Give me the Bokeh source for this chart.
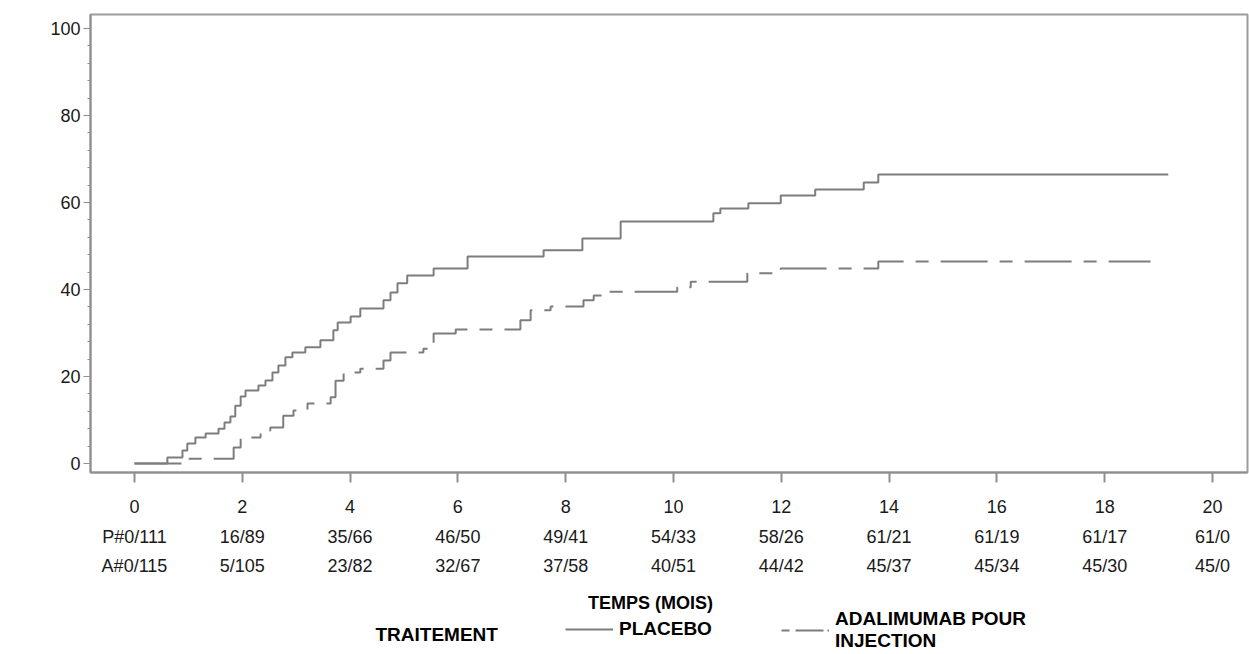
from bokeh.plotting import figure
from bokeh.layouts import column
from bokeh.models import Range1d, FixedTicker, LinearAxis, Legend, LegendItem, Label
from bokeh.embed import file_html
from bokeh.resources import INLINE

# Time axis ticks (months) and the numbers at risk table printed under them
months = [0, 2, 4, 6, 8, 10, 12, 14, 16, 18, 20]
placebo_risk = ["P#0/111", "16/89", "35/66", "46/50", "49/41", "54/33",
                "58/26", "61/21", "61/19", "61/17", "61/0"]
adalimumab_risk = ["A#0/115", "5/105", "23/82", "32/67", "37/58", "40/51",
                   "44/42", "45/37", "45/34", "45/30", "45/0"]

# Cumulative incidence (%) step curves: event times in months, level after each step
placebo_t = [0.00, 0.61, 0.89, 0.98, 1.13, 1.32, 1.56, 1.67, 1.78, 1.87, 1.97,
             2.06, 2.30, 2.43, 2.56, 2.67, 2.80, 2.93, 3.17, 3.45, 3.69, 3.77,
             4.01, 4.19, 4.62, 4.75, 4.88, 5.06, 5.55, 6.18, 7.59, 8.31, 9.02,
             10.74, 10.87, 11.39, 11.99, 12.63, 13.53, 13.80, 19.18]
placebo_pct = [0.0, 1.4, 3.0, 4.6, 6.0, 6.9, 8.0, 9.4, 10.8, 13.3, 15.4,
               16.8, 17.9, 19.1, 20.9, 22.5, 24.4, 25.5, 26.7, 28.3, 30.6, 32.4,
               33.8, 35.6, 37.5, 39.3, 41.4, 43.2, 44.8, 47.6, 49.0, 51.7, 55.6,
               57.5, 58.6, 59.8, 61.6, 63.0, 64.6, 66.4, 66.4]

adalimumab_t = [0.00, 0.98, 1.84, 1.97, 2.34, 2.52, 2.76, 2.95, 3.21, 3.64, 3.73,
                3.88, 4.19, 4.62, 4.75, 5.36, 5.55, 5.96, 7.16, 7.35, 7.72, 8.33,
                8.52, 8.78, 10.07, 10.32, 11.37, 11.99, 13.80, 18.85]
adalimumab_pct = [0.0, 1.1, 3.7, 6.0, 7.6, 8.3, 11.0, 12.2, 13.8, 15.2, 19.0,
                  20.9, 21.8, 23.7, 25.5, 26.4, 29.9, 30.8, 32.9, 35.2, 36.1, 37.5,
                  38.6, 39.5, 40.5, 41.8, 43.7, 44.8, 46.4, 46.4]

y_ticks = [0, 20, 40, 60, 80, 100]

FONT = "Liberation Sans"
TXT = "#1a1a1a"
AX = "#8f8f8f"
CURVE = "#7d7d7d"
DASH = "47 12 13 12"

W = 1249
MAIN_H = 590
FOOT_H = 64

p = figure(width=W, height=MAIN_H, output_backend="svg", toolbar_location=None,
           x_range=Range1d(-0.816, 20.65), y_range=Range1d(-2.07, 103.2),
           min_border_left=90, min_border_right=2, min_border_top=14,
           min_border_bottom=MAIN_H - 472)
p.grid.visible = False
p.outline_line_color = "#9c9c9c"
p.outline_line_width = 2
p.background_fill_color = "white"
p.border_fill_color = "white"

# y axis
ya = p.yaxis[0]
ya.ticker = FixedTicker(ticks=y_ticks, minor_ticks=list(range(0, 101, 4)))
ya.axis_line_color = AX
ya.axis_line_width = 2
ya.major_tick_line_color = AX
ya.major_tick_out = 7
ya.major_tick_in = 0
ya.minor_tick_line_color = AX
ya.minor_tick_out = 3
ya.minor_tick_in = 0
ya.major_label_standoff = 3
ya.major_label_text_font = FONT
ya.major_label_text_font_size = "18px"
ya.major_label_text_color = TXT

# x axis with month labels
xa = p.xaxis[0]
xa.ticker = FixedTicker(ticks=months, minor_ticks=[])
xa.axis_line_color = AX
xa.axis_line_width = 2
xa.major_tick_line_color = AX
xa.major_tick_line_width = 2
xa.major_tick_out = 10
xa.major_tick_in = 0
xa.major_label_standoff = 17
xa.major_label_text_font = FONT
xa.major_label_text_font_size = "18px"
xa.major_label_text_color = TXT


def risk_axis(labels, standoff):
    ax = LinearAxis(ticker=FixedTicker(ticks=months, minor_ticks=[]),
                    major_label_overrides={m: s for m, s in zip(months, labels)})
    ax.axis_line_color = None
    ax.major_tick_line_color = None
    ax.minor_tick_line_color = None
    ax.major_tick_out = 0
    ax.major_tick_in = 0
    ax.major_label_standoff = standoff
    ax.major_label_text_font = FONT
    ax.major_label_text_font_size = "18px"
    ax.major_label_text_color = TXT
    return ax


# numbers at risk rows, aligned on the month ticks
p.add_layout(risk_axis(placebo_risk, 11), "below")
p.add_layout(risk_axis(adalimumab_risk, 6), "below")

# curves
r_pl = p.step(placebo_t, placebo_pct, mode="after", line_color=CURVE, line_width=2)
r_ad = p.step(adalimumab_t, adalimumab_pct, mode="after", line_color=CURVE,
              line_width=2, line_dash=DASH)

# footer: axis title and treatment legend (its frame is aligned with the plot frame)
f = figure(width=W, height=FOOT_H, output_backend="svg", toolbar_location=None,
           x_range=Range1d(0, 1), y_range=Range1d(0, 1),
           min_border=0, outline_line_color=None)
f.axis.visible = False
f.grid.visible = False
f.background_fill_color = "white"
f.border_fill_color = "white"

nan = float("nan")
k_pl = f.line([nan, nan], [nan, nan], line_color=CURVE, line_width=2)
k_ad = f.line([nan, nan], [nan, nan], line_color=CURVE, line_width=2,
              line_dash="8 6 28 4")


def make_legend(label, rend, loc):
    return Legend(items=[LegendItem(label=label, renderers=[rend])],
                  location=loc, glyph_width=48, glyph_height=20, label_standoff=6,
                  padding=0, margin=0, border_line_alpha=0, background_fill_alpha=0,
                  label_text_font=FONT, label_text_font_style="bold",
                  label_text_font_size="19px", label_text_color="black",
                  label_text_line_height=1.3)


f.add_layout(make_legend("PLACEBO", k_pl, (475, 14)), "center")
f.add_layout(make_legend("ADALIMUMAB POUR\nINJECTION", k_ad, (691, 2)), "center")

f.add_layout(Label(x=560, y=FOOT_H - 12, x_units="screen", y_units="screen",
                   text="TEMPS (MOIS)", text_font=FONT, text_font_style="bold",
                   text_font_size="18px", text_color="black",
                   text_align="center", text_baseline="middle"))
f.add_layout(Label(x=285, y=FOOT_H - 44, x_units="screen", y_units="screen",
                   text="TRAITEMENT", text_font=FONT, text_font_style="bold",
                   text_font_size="19px", text_color="black",
                   text_baseline="middle"))

layout = column(p, f, spacing=0)
open("out.html", "w").write(file_html(layout, INLINE))
